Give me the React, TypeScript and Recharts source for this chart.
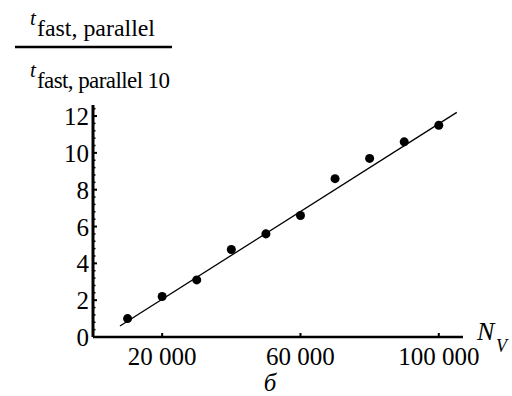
import { ComposedChart, Scatter, XAxis, YAxis } from 'recharts';

// measured points: N_V vs normalised time
const nValues = [10000, 20000, 30000, 40000, 50000, 60000, 70000, 80000, 90000, 100000];
const ratios = [1.0, 2.2, 3.1, 4.75, 5.6, 6.6, 8.6, 9.7, 10.6, 11.5];

// fitted straight line (end points as drawn)
const fitX = [7800, 105200];
const fitY = [0.6, 12.2];

const xTicks = [20000, 60000, 100000];
const yMajor = [0, 2, 4, 6, 8, 10, 12];
const yTicks = [
	0, 0.4, 0.8, 1.2, 1.6, 2, 2.4, 2.8, 3.2, 3.6, 4, 4.4, 4.8, 5.2, 5.6, 6, 6.4, 6.8, 7.2, 7.6, 8,
	8.4, 8.8, 9.2, 9.6, 10, 10.4, 10.8, 11.2, 11.6, 12, 12.4,
];

const points = nValues.map((x, i) => ({ x, y: ratios[i] }));
const fit = fitX.map((x, i) => ({ x, y: fitY[i] }));

const FONT = '"Liberation Serif", "Times New Roman", serif';
const AXIS_X = 93;
const AXIS_Y = 337;

const formatN = (v: number) => String(v).replace(/\B(?=(\d{3})+(?!\d))/g, ' ');

function XTick({ x, payload }: any) {
	return (
		<g>
			<line x1={x} x2={x} y1={AXIS_Y} y2={AXIS_Y - 4} stroke="#000" strokeWidth={2} />
			<text x={x} y={365} textAnchor="middle" fontFamily={FONT} fontSize={25} fill="#000">
				{formatN(payload.value)}
			</text>
		</g>
	);
}

function YTick({ y, payload }: any) {
	const major = yMajor.includes(payload.value);
	return (
		<g>
			<line
				x1={AXIS_X}
				x2={AXIS_X + (major ? 4 : 2.5)}
				y1={y}
				y2={y}
				stroke="#000"
				strokeWidth={major ? 2 : 1.5}
			/>
			{major && (
				<text
					x={AXIS_X - 4}
					y={y + 9}
					textAnchor="end"
					fontFamily={FONT}
					fontSize={25}
					fill="#000"
				>
					{payload.value}
				</text>
			)}
		</g>
	);
}

export default function App() {
	return (
		<div style={{ position: 'absolute', left: 0, top: 0, width: 512, height: 396, background: '#fff' }}>
			<ComposedChart
				width={512}
				height={396}
				margin={{ top: 105, right: 49, bottom: 0, left: 0 }}
			>
				<XAxis
					type="number"
					dataKey="x"
					domain={[0, 107000]}
					ticks={xTicks}
					height={59}
					axisLine={{ stroke: '#000', strokeWidth: 2.5 }}
					tickLine={false}
					tick={<XTick />}
					allowDataOverflow
				/>
				<YAxis
					type="number"
					dataKey="y"
					domain={[0, 12.6]}
					ticks={yTicks}
					interval={0}
					width={93}
					axisLine={{ stroke: '#000', strokeWidth: 3 }}
					tickLine={false}
					tick={<YTick />}
					allowDataOverflow
				/>
				<Scatter
					data={fit}
					dataKey="y"
					line={{ stroke: '#000', strokeWidth: 1.3 }}
					shape={() => null}
					isAnimationActive={false}
				/>
				<Scatter data={points} dataKey="y" fill="#000" isAnimationActive={false} />
			</ComposedChart>
			<svg
				width={512}
				height={396}
				style={{ position: 'absolute', left: 0, top: 0, pointerEvents: 'none' }}
			>
				<g fontFamily={FONT} fill="#000">
					<text x={30} y={25} fontSize={21} fontStyle="italic">t</text>
					<text x={37} y={36} fontSize={23} textLength={118} lengthAdjust="spacingAndGlyphs">
						fast, parallel
					</text>
					<line x1={15} x2={172} y1={47} y2={47} stroke="#000" strokeWidth={2.5} />
					<text x={30} y={77} fontSize={21} fontStyle="italic">t</text>
					<text x={37} y={88} fontSize={23} textLength={133} lengthAdjust="spacing">
						fast, parallel 10
					</text>
					<text x={477} y={340} fontSize={26} fontStyle="italic">N</text>
					<text x={496} y={352} fontSize={18} fontStyle="italic">V</text>
					<text x={270} y={391} fontSize={25} fontStyle="italic" textAnchor="middle">б</text>
				</g>
			</svg>
		</div>
	);
}
